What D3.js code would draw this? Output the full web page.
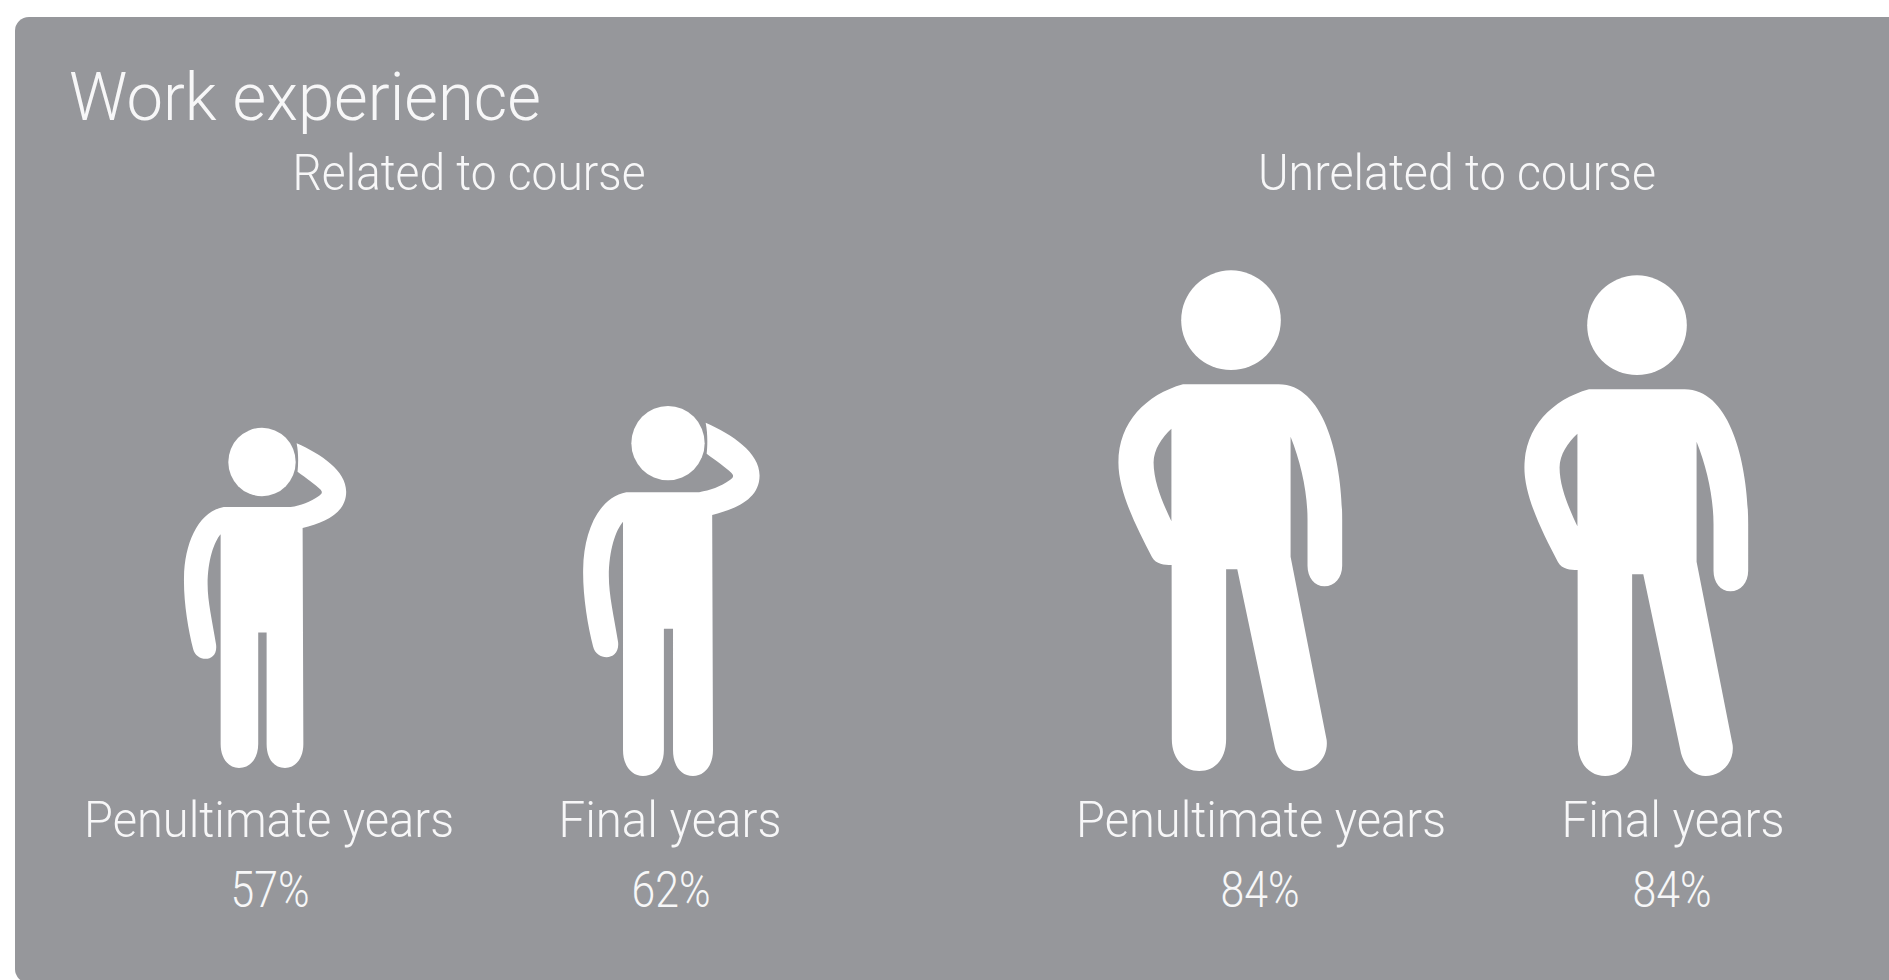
<!DOCTYPE html>
<html>
<head>
<meta charset="utf-8">
<title>Work experience</title>
<script src="https://cdn.jsdelivr.net/npm/d3@7"></script>
<style>
    html, body { margin: 0; padding: 0; background: #fff; overflow: hidden; }
    text { font-family: Roboto, sans-serif; font-weight: 300; fill: #f7f7f8; }
</style>
</head>
<body>
<div id="viz"></div>
<script>
const title = 'Work experience';
const groups = ['Related to course', 'Unrelated to course'];
const years = ['Penultimate years', 'Final years'];
const relatedValues = [57, 62];
const unrelatedValues = [84, 84];

const width = 1889,
    height = 980,
    panelColor = '#96979b';

// icons are traced at a known pixel height, origin at the feet, centre of the body
const scratchingHeight = 368;
const scratchingHead = { cy: -331.5, rx: 36.5, ry: 37 };
const scratchingBody = 'M-41.5,-282.7 C-68,-278 -84,-245 -84.5,-206 C-85,-180 -80,-150 -74.6,-129 '
    + 'C-71,-114 -47,-114 -49.8,-134 C-54,-160 -58.9,-180 -58.9,-199 C-58.9,-225 -52,-245 -44.8,-253.3 '
    + 'L-44.8,-26 C-44.8,-10 -36,0 -24.9,0 C-13,0 -4.1,-10 -4.1,-26 L-4.1,-146.7 L5,-146.7 L5,-26 '
    + 'C5,-10 13,0 24.9,0 C36,0 44.8,-10 44.8,-26 L44,-260 C68,-266 91.2,-276 91.2,-299.3 '
    + 'C91.2,-322 64,-340 37.5,-351.7 C39.5,-342 39.5,-330 38.5,-321 C48,-314 58,-307 63,-302 '
    + 'C66,-299 65,-297 62,-295 C52,-288 42,-284.5 31,-282.7 Z';

const standingHeight = 502.5;
const standingHead = { cy: -452.5, rx: 50, ry: 50 };
const standingBody = 'M-48.2,-388.2 C-85,-378 -113,-350 -113,-309.6 C-113,-280 -95,-245 -79.5,-215 '
    + 'C-75,-207 -67,-206.8 -59.6,-206.8 L-59.4,-32 C-59.4,-12 -47,0 -32,0 C-16,0 -4.9,-12 -4.9,-32 '
    + 'L-4.9,-202.5 L6.3,-202.5 L43.3,-27 C46,-11 56,0 68.8,0 C85,0 98,-14 96,-31 L59.8,-215 L59.8,-335.4 '
    + 'C70,-310 76.8,-280 76.8,-252.5 L76.8,-206 C76.8,-194 84,-185.4 93.8,-185.4 C104,-185.4 111.6,-194 111.6,-206 '
    + 'L111.6,-252.5 C111.6,-310 95,-388.2 47.8,-388.2 Z '
    + 'M-59.8,-343.6 C-69,-335 -77.7,-323 -77.7,-309.6 C-77.7,-290 -68,-268 -59.8,-250.7 Z';

const svg = d3.select('#viz').append('svg')
    .attr('width', width)
    .attr('height', height)
    .style('display', 'block');

// icon height is proportional to the value
const heightScale = d3.scaleLinear().domain([0, 100]).range([0, 596]);

function panel() {
    svg.append('rect')
        .attr('x', 15)
        .attr('y', 17)
        .attr('width', width + 40)
        .attr('height', 966)
        .attr('rx', 14)
        .style('fill', panelColor);
}

function label(string, x, y, size, length, anchor) {
    svg.append('text')
        .attr('x', x)
        .attr('y', y)
        .attr('text-anchor', anchor || 'middle')
        .attr('textLength', length)
        .attr('lengthAdjust', 'spacingAndGlyphs')
        .style('font-size', size + 'px')
        .text(string);
}

function figure(value, x, baseline, head, body, iconHeight) {
    const k = heightScale(value) / iconHeight;
    const g = svg.append('g')
        .attr('transform', `translate(${x},${baseline}) scale(${k})`)
        .style('fill', '#fff');

    g.append('path')
        .attr('d', body)
        .attr('fill-rule', 'evenodd');

    g.append('ellipse')
        .attr('cy', head.cy)
        .attr('rx', head.rx)
        .attr('ry', head.ry);
}

function placeFigures(values, head, body, iconHeight, layout) {
    values.forEach((value, i) => {
        const spot = layout[i];

        figure(value, spot.x, spot.baseline, head, body, iconHeight);
        label(years[i], spot.labelX, 837, 50, i === 0 ? 370 : 223);
        label(value + '%', spot.valueX, 907, 50, 79);
    });
}

function placeChart() {
    panel();

    label(title, 69, 120, 66, 472, 'start');
    label(groups[0], 469, 190, 50, 353);
    label(groups[1], 1457, 190, 50, 398);

    placeFigures(relatedValues, scratchingHead, scratchingBody, scratchingHeight, [
        { x: 262, baseline: 768, labelX: 269, valueX: 270 },
        { x: 668, baseline: 776, labelX: 670, valueX: 671 }
    ]);

    placeFigures(unrelatedValues, standingHead, standingBody, standingHeight, [
        { x: 1231, baseline: 771, labelX: 1261, valueX: 1260 },
        { x: 1637, baseline: 776, labelX: 1673, valueX: 1672 }
    ]);
}

placeChart();
</script>
</body>
</html>
